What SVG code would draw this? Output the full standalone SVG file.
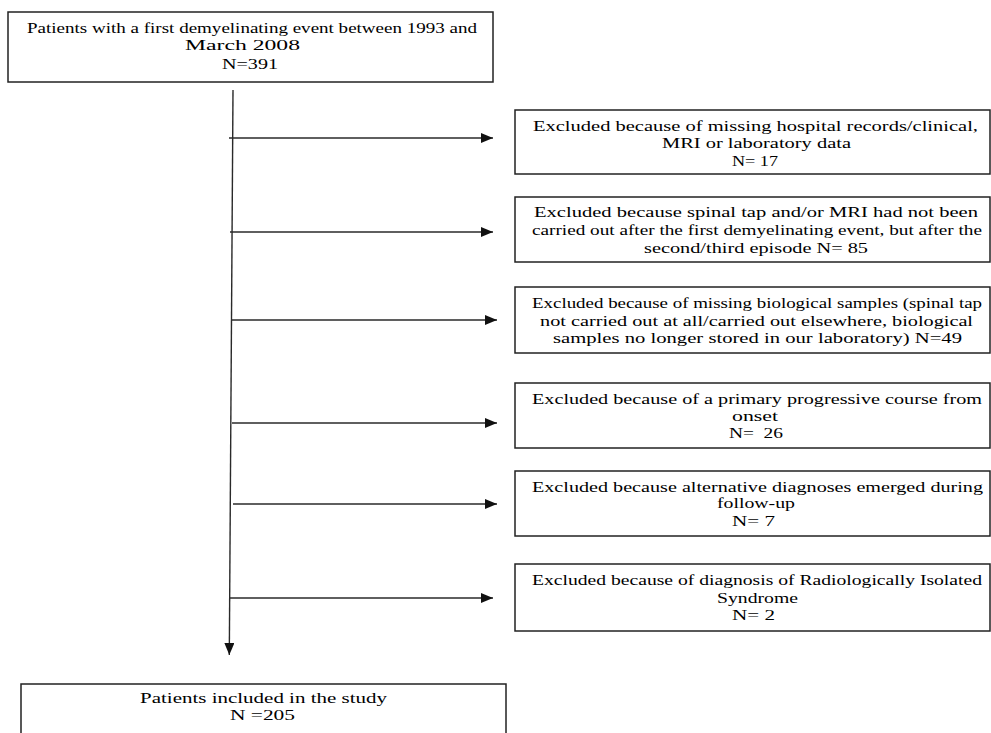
<svg xmlns="http://www.w3.org/2000/svg" width="991" height="733" viewBox="0 0 991 733">
<style>
.box{fill:#fff;stroke:#222;stroke-width:1.5}
.t{font-family:"Liberation Serif","Times New Roman",serif;font-size:15px;fill:#000}
.ln{stroke:#2a2a2a;stroke-width:1.4;fill:none}
</style>
<defs>
<marker id="ah" markerWidth="12" markerHeight="10" refX="12" refY="5" orient="auto" markerUnits="userSpaceOnUse">
<path d="M0,0 L12,5 L0,10 Z" fill="#111"/>
</marker>
</defs>
<rect width="991" height="733" fill="#fff"/>
<g id="connectors">
<line class="ln" x1="233" y1="90" x2="229.3" y2="655" marker-end="url(#ah)"/>
<line class="ln" x1="229" y1="138" x2="493" y2="138" marker-end="url(#ah)"/>
<line class="ln" x1="230" y1="232" x2="493" y2="232" marker-end="url(#ah)"/>
<line class="ln" x1="232" y1="320" x2="497" y2="320" marker-end="url(#ah)"/>
<line class="ln" x1="232" y1="423" x2="497" y2="423" marker-end="url(#ah)"/>
<line class="ln" x1="233" y1="504" x2="497" y2="504" marker-end="url(#ah)"/>
<line class="ln" x1="229" y1="598" x2="493" y2="598" marker-end="url(#ah)"/>
</g>
<g id="start">
<rect class="box" x="8" y="12" width="485" height="70"/>
<text class="t" x="27" y="33" textLength="450" lengthAdjust="spacingAndGlyphs">Patients with a first demyelinating event between 1993 and</text>
<text class="t" x="185" y="50" textLength="115" lengthAdjust="spacingAndGlyphs">March 2008</text>
<text class="t" x="222" y="69" textLength="56" lengthAdjust="spacingAndGlyphs">N=391</text>
</g>
<g id="ex1">
<rect class="box" x="515" y="110" width="475" height="64"/>
<text class="t" x="533" y="131" textLength="445" lengthAdjust="spacingAndGlyphs">Excluded because of missing hospital records/clinical,</text>
<text class="t" x="662" y="148" textLength="189" lengthAdjust="spacingAndGlyphs">MRI or laboratory data</text>
<text class="t" x="732" y="166" textLength="46" lengthAdjust="spacingAndGlyphs">N= 17</text>
</g>
<g id="ex2">
<rect class="box" x="515" y="197" width="475" height="65"/>
<text class="t" x="534" y="217" textLength="444" lengthAdjust="spacingAndGlyphs">Excluded because spinal tap and/or MRI had not been</text>
<text class="t" x="532" y="235" textLength="450" lengthAdjust="spacingAndGlyphs">carried out after the first demyelinating event, but after the</text>
<text class="t" x="644" y="253" textLength="224" lengthAdjust="spacingAndGlyphs">second/third episode N= 85</text>
</g>
<g id="ex3">
<rect class="box" x="515" y="287" width="475" height="66"/>
<text class="t" x="532" y="308" textLength="450" lengthAdjust="spacingAndGlyphs">Excluded because of missing biological samples (spinal tap</text>
<text class="t" x="540" y="326" textLength="433" lengthAdjust="spacingAndGlyphs">not carried out at all/carried out elsewhere, biological</text>
<text class="t" x="553" y="343" textLength="409" lengthAdjust="spacingAndGlyphs">samples no longer stored in our laboratory) N=49</text>
</g>
<g id="ex4">
<rect class="box" x="515" y="383" width="475" height="65"/>
<text class="t" x="532" y="404" textLength="450" lengthAdjust="spacingAndGlyphs">Excluded because of a primary progressive course from</text>
<text class="t" x="732" y="421" textLength="46" lengthAdjust="spacingAndGlyphs">onset</text>
<text class="t" x="729" y="438" textLength="54" lengthAdjust="spacingAndGlyphs" xml:space="preserve">N=  26</text>
</g>
<g id="ex5">
<rect class="box" x="515" y="471" width="475" height="65"/>
<text class="t" x="532" y="492" textLength="451" lengthAdjust="spacingAndGlyphs">Excluded because alternative diagnoses emerged during</text>
<text class="t" x="717" y="508" textLength="78" lengthAdjust="spacingAndGlyphs">follow-up</text>
<text class="t" x="732" y="526" textLength="43" lengthAdjust="spacingAndGlyphs">N= 7</text>
</g>
<g id="ex6">
<rect class="box" x="515" y="564" width="475" height="67"/>
<text class="t" x="532" y="585" textLength="450" lengthAdjust="spacingAndGlyphs">Excluded because of diagnosis of Radiologically Isolated</text>
<text class="t" x="717" y="603" textLength="81" lengthAdjust="spacingAndGlyphs">Syndrome</text>
<text class="t" x="732" y="620" textLength="43" lengthAdjust="spacingAndGlyphs">N= 2</text>
</g>
<g id="included">
<rect class="box" x="21" y="684" width="485" height="60"/>
<text class="t" x="140" y="703" textLength="247" lengthAdjust="spacingAndGlyphs">Patients included in the study</text>
<text class="t" x="230" y="720" textLength="65" lengthAdjust="spacingAndGlyphs">N =205</text>
</g>
</svg>
